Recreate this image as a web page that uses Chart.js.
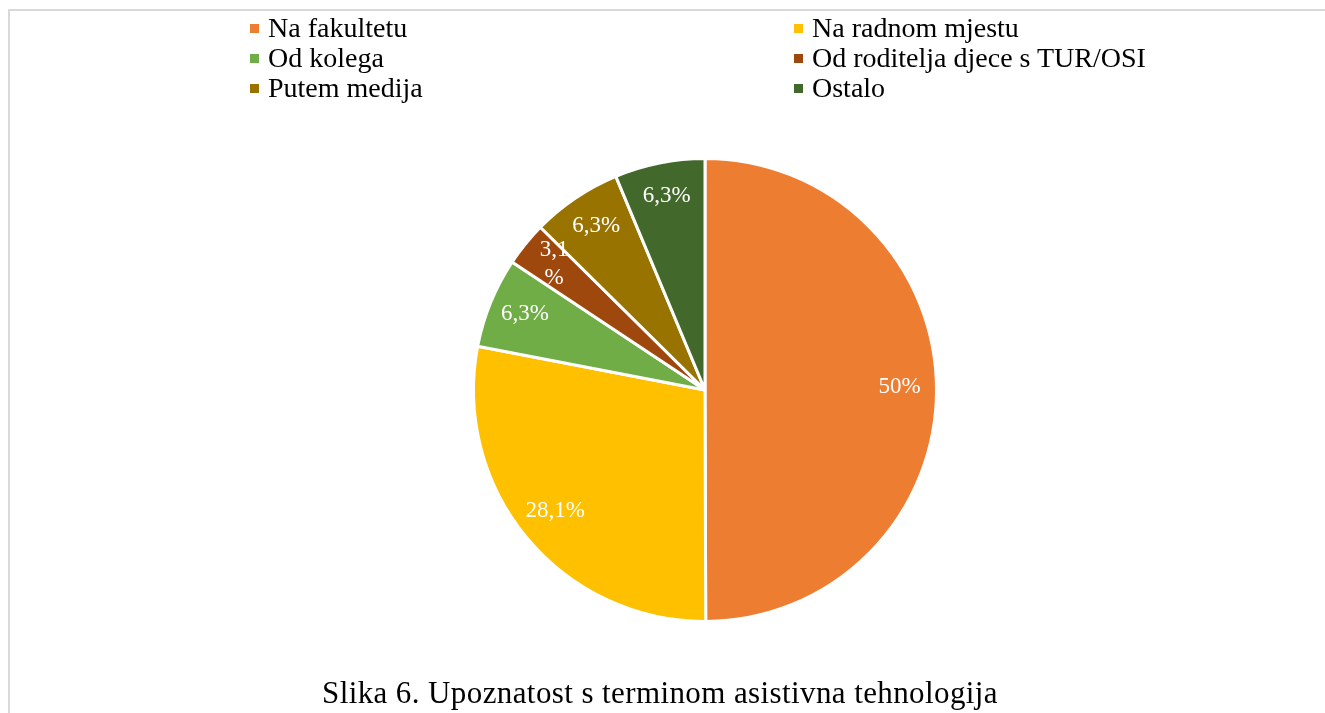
<!DOCTYPE html>
<html>
<head>
<meta charset="utf-8">
<script src="https://cdn.jsdelivr.net/npm/chart.js@4/dist/chart.umd.min.js"></script>
<style>
  html, body { margin: 0; padding: 0; background: #fff; }
  #wrap { position: relative; width: 1325px; height: 713px; overflow: hidden;
          font-family: "Liberation Serif", "Times New Roman", serif; color: #000; }
  #frame { position: absolute; left: 8px; top: 9px; width: 1400px; height: 800px;
           border-top: 2px solid #d9d9d9; border-left: 2px solid #d9d9d9; }
  #chart { position: absolute; left: 0; top: 0; }
  .item { position: absolute; white-space: nowrap; font-size: 28px; line-height: 30px; height: 30px; }
  .box { position: absolute; width: 9px; height: 9px; }
  #title { position: absolute; left: 0; width: 1320px; top: 675px; text-align: center;
           font-size: 31px; line-height: 36px; letter-spacing: 0.4px; white-space: nowrap; }
</style>
</head>
<body>
<div id="wrap">
  <div id="frame"></div>
  <canvas id="chart" width="1325" height="713"></canvas>
  <div id="legend"></div>
  <div id="title"></div>
</div>
<script>
// ---------- data ----------
const categories = ['Na fakultetu', 'Na radnom mjestu', 'Od kolega',
                    'Od roditelja djece s TUR/OSI', 'Putem medija', 'Ostalo'];
const shares = [50, 28.1, 6.3, 3.1, 6.3, 6.3];
const shareLabels = [['50%'], ['28,1%'], ['6,3%'], ['3,1', '%'], ['6,3%'], ['6,3%']];
const colors = ['#ED7D31', '#FFC000', '#70AD47', '#9E480E', '#997300', '#43682B'];
const titleText = 'Slika 6. Upoznatost s terminom asistivna tehnologija';

document.getElementById('title').textContent = titleText;

// ---------- legend (two columns, row by row) ----------
const legendEl = document.getElementById('legend');
const colX = [250, 794];
categories.forEach((name, i) => {
    const left = colX[i % 2];
    const top = 13 + Math.floor(i / 2) * 30;
    const box = document.createElement('div');
    box.className = 'box';
    box.style.left = left + 'px';
    box.style.top = (top + 11) + 'px';
    box.style.background = colors[i];
    legendEl.appendChild(box);
    const item = document.createElement('div');
    item.className = 'item';
    item.style.left = (left + 18) + 'px';
    item.style.top = top + 'px';
    item.textContent = name;
    legendEl.appendChild(item);
});

// ---------- slice labels ----------
const sliceLabels = {
    id: 'sliceLabels',
    afterDatasetsDraw(chart) {
        const ctx = chart.ctx;
        const arcs = chart.getDatasetMeta(0).data;
        ctx.save();
        ctx.fillStyle = '#fff';
        ctx.font = '23px "Liberation Serif", "Times New Roman", serif';
        ctx.textAlign = 'center';
        ctx.textBaseline = 'middle';
        arcs.forEach((arc, i) => {
            const p = arc.getProps(['x', 'y', 'startAngle', 'endAngle', 'outerRadius'], true);
            const mid = (p.startAngle + p.endAngle) / 2;
            const r = p.outerRadius * 0.84;
            const lines = shareLabels[i];
            const lh = 28;
            const cx = p.x + Math.cos(mid) * r;
            const cy = p.y + Math.sin(mid) * r - 3;
            lines.forEach((t, k) => {
                ctx.fillText(t, cx, cy + (k - (lines.length - 1) / 2) * lh);
            });
        });
        ctx.restore();
    }
};

new Chart(document.getElementById('chart'), {
    type: 'pie',
    data: {
        labels: categories,
        datasets: [{
            data: shares,
            backgroundColor: colors,
            borderColor: '#fff',
            borderWidth: 3
        }]
    },
    options: {
        responsive: false,
        animation: false,
        devicePixelRatio: 1,
        layout: { padding: { top: 157, left: 85, right: 0, bottom: 90 } },
        plugins: {
            legend: { display: false },
            tooltip: { enabled: false },
            title: { display: false }
        }
    },
    plugins: [sliceLabels]
});
</script>
</body>
</html>
